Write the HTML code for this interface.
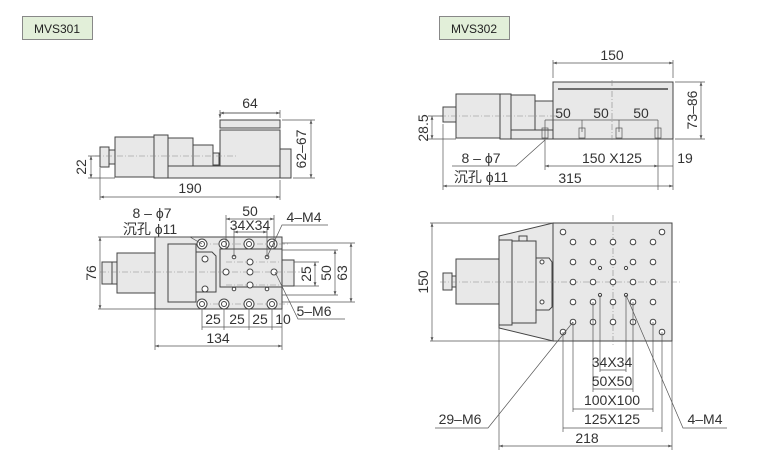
<!DOCTYPE html>
<html><head><meta charset="utf-8"><style>
html,body{margin:0;padding:0;background:#fff;}
svg{display:block;font-family:"Liberation Sans","Noto Sans CJK SC",sans-serif;}
.p{fill:#e8e8e8;stroke:#444;stroke-width:1}
.l{stroke:#555;stroke-width:0.7;fill:none}
.c{stroke:#888;stroke-width:0.6;stroke-dasharray:6 2 1 2;fill:none}
.t{font-size:14px;fill:#333}
.h{fill:#fff;stroke:#444;stroke-width:1}
</style></head><body>
<svg width="774" height="461" viewBox="0 0 774 461">
<defs>
<marker id="a" viewBox="0 0 8 6" refX="8" refY="3" markerWidth="6" markerHeight="4" orient="auto-start-reverse"><path d="M0,0L8,3L0,6z" fill="#555"/></marker>
</defs>
<!-- labels -->
<rect x="22.5" y="16.5" width="70" height="23" fill="#e2efd9" stroke="#888"/>
<text x="57" y="33" font-size="12" text-anchor="middle" fill="#222">MVS301</text>
<rect x="439.5" y="16.5" width="70" height="23" fill="#e2efd9" stroke="#888"/>
<text x="474" y="33" font-size="12" text-anchor="middle" fill="#222">MVS302</text>

<!-- MVS301 side -->
<rect class="p" x="115" y="137" width="39" height="40"/>
<rect class="p" x="168" y="138" width="25" height="30"/>
<rect class="p" x="193" y="145" width="20" height="23"/>
<rect class="p" x="213" y="153" width="6" height="12"/>
<rect class="p" x="168" y="166" width="112" height="12"/>
<rect class="p" x="220" y="130" width="60" height="36"/>
<rect class="p" x="220" y="120" width="60" height="8"/>
<rect class="p" x="280" y="149" width="11" height="29"/>
<rect class="p" x="154" y="135" width="14" height="43"/>
<rect class="p" x="109" y="150" width="6" height="14"/>
<rect class="p" x="100" y="147" width="9" height="20" fill="#ccc"/>
<path class="c" d="M95 156H238"/>
<path class="l" d="M220 118V110M280 118V110M220 113H280" marker-start="url(#a)"/>
<path class="l" d="M220 113H280" marker-start="url(#a)" marker-end="url(#a)"/>
<text class="t" x="250" y="108" text-anchor="middle">64</text>
<path class="l" d="M282 120H315M293 178H315"/>
<path class="l" d="M311 120V178" marker-start="url(#a)" marker-end="url(#a)"/>
<text class="t" transform="translate(306 149) rotate(-90)" text-anchor="middle">62–67</text>
<path class="l" d="M88 156H100M88 178H115"/>
<path class="l" d="M91 156V178" marker-start="url(#a)" marker-end="url(#a)"/>
<text class="t" transform="translate(86 167) rotate(-90)" text-anchor="middle">22</text>
<path class="l" d="M100 168V200M280 180V200"/>
<path class="l" d="M100 197H280" marker-start="url(#a)" marker-end="url(#a)"/>
<text class="t" x="190" y="193" text-anchor="middle">190</text>

<!-- MVS301 top -->
<rect class="p" x="117" y="253" width="38" height="40"/>
<rect class="p" x="112" y="262" width="5" height="22"/>
<rect class="p" x="102" y="262" width="10" height="22" fill="#ccc"/>
<rect class="p" x="155" y="237" width="127" height="72"/>
<rect class="p" x="282" y="260" width="12" height="26"/>
<rect class="p" x="168" y="244" width="28" height="58"/>
<path class="p" d="M196 252H212L216 256V292H196Z"/>
<rect class="p" x="220" y="249" width="62" height="38"/>
<path class="c" d="M100 272H300M202 244H290M202 304H290M226 262H282M226 285H282"/>
<g class="h">
<circle cx="202" cy="244" r="5"/><circle cx="224" cy="244" r="5"/><circle cx="249" cy="244" r="5"/><circle cx="272" cy="244" r="5"/>
<circle cx="202" cy="304" r="5"/><circle cx="224" cy="304" r="5"/><circle cx="249" cy="304" r="5"/><circle cx="272" cy="304" r="5"/>
<circle cx="202" cy="244" r="2.5"/><circle cx="224" cy="244" r="2.5"/><circle cx="249" cy="244" r="2.5"/><circle cx="272" cy="244" r="2.5"/>
<circle cx="202" cy="304" r="2.5"/><circle cx="224" cy="304" r="2.5"/><circle cx="249" cy="304" r="2.5"/><circle cx="272" cy="304" r="2.5"/>
<circle cx="205" cy="259" r="3"/><circle cx="205" cy="289" r="3"/>
<circle cx="226" cy="272" r="3"/><circle cx="250" cy="262" r="3"/><circle cx="250" cy="272" r="3"/><circle cx="250" cy="285" r="3"/><circle cx="274" cy="272" r="3"/>
<circle cx="234" cy="257" r="1.8"/><circle cx="267" cy="257" r="1.8"/><circle cx="234" cy="289" r="1.8"/><circle cx="267" cy="289" r="1.8"/>
</g>
<text class="t" x="152" y="218" text-anchor="middle">8 – ϕ7</text>
<text class="t" x="150" y="234" text-anchor="middle">沉孔 ϕ11</text>
<path class="l" d="M120 237H190L202 244"/>
<path class="l" d="M226 249V215M274 249V215"/>
<path class="l" d="M226 219H274" marker-start="url(#a)" marker-end="url(#a)"/>
<text class="t" x="250" y="216" text-anchor="middle">50</text>
<path class="l" d="M234 257V228M267 257V228"/>
<path class="l" d="M234 232H267" marker-start="url(#a)" marker-end="url(#a)"/>
<text class="t" x="250" y="230" text-anchor="middle">34X34</text>
<text class="t" x="304" y="222" text-anchor="middle">4–M4</text>
<path class="l" d="M328 225H282L267 257"/>
<text class="t" x="314" y="316" text-anchor="middle">5–M6</text>
<path class="l" d="M275 272L298 319H345"/>
<path class="l" d="M294 262H319M294 286H319M282 250H338M282 295H338M282 243H355M282 302H355"/>
<path class="l" d="M315 262V286" marker-start="url(#a)" marker-end="url(#a)"/>
<path class="l" d="M335 250V295" marker-start="url(#a)" marker-end="url(#a)"/>
<path class="l" d="M351 243V302" marker-start="url(#a)" marker-end="url(#a)"/>
<text class="t" transform="translate(311 274) rotate(-90)" text-anchor="middle">25</text>
<text class="t" transform="translate(331 273) rotate(-90)" text-anchor="middle">50</text>
<text class="t" transform="translate(347 273) rotate(-90)" text-anchor="middle">63</text>
<path class="l" d="M98 237H155M98 309H155"/>
<path class="l" d="M100 237V309" marker-start="url(#a)" marker-end="url(#a)"/>
<text class="t" transform="translate(96 273) rotate(-90)" text-anchor="middle">76</text>
<path class="l" d="M202 309V330M224 309V330M249 309V330M272 309V330M282 309V350M155 309V350"/>
<path class="l" d="M202 327H282"/>
<text class="t" x="213" y="324" text-anchor="middle">25</text>
<text class="t" x="237" y="324" text-anchor="middle">25</text>
<text class="t" x="260" y="324" text-anchor="middle">25</text>
<text class="t" x="283" y="324" text-anchor="middle">10</text>
<path class="l" d="M155 346H282" marker-start="url(#a)" marker-end="url(#a)"/>
<text class="t" x="218" y="343" text-anchor="middle">134</text>

<!-- MVS302 side -->
<rect class="p" x="456" y="94" width="44" height="44"/>
<rect class="p" x="443" y="107" width="13" height="15" fill="#ccc"/>
<rect class="p" x="511" y="95" width="24" height="44"/>
<rect class="p" x="535" y="101" width="18" height="29"/>
<rect class="p" x="511" y="130" width="162" height="9"/>
<rect class="p" x="553" y="82" width="120" height="57"/>
<path d="M558 89H668" stroke="#444" stroke-width="1.5"/>
<rect class="p" x="500" y="94" width="11" height="45"/>
<path class="c" d="M440 116H560M612 80V140"/>
<g class="l"><rect x="542" y="128" width="6" height="10"/><rect x="579" y="128" width="6" height="10"/><rect x="616" y="128" width="6" height="10"/><rect x="655" y="128" width="6" height="10"/></g>
<path class="l" d="M553 78V60M673 78V60"/>
<path class="l" d="M553 63H673" marker-start="url(#a)" marker-end="url(#a)"/>
<text class="t" x="612" y="60" text-anchor="middle">150</text>
<text class="t" x="563" y="118" text-anchor="middle">50</text>
<text class="t" x="601" y="118" text-anchor="middle">50</text>
<text class="t" x="641" y="118" text-anchor="middle">50</text>
<path class="l" d="M545 120H658M545 120V170M582 120V132M619 120V132M658 120V190"/>
<path class="l" d="M675 82H705M675 139H705"/>
<path class="l" d="M701 82V139" marker-start="url(#a)" marker-end="url(#a)"/>
<text class="t" transform="translate(697 110) rotate(-90)" text-anchor="middle">73–86</text>
<path class="l" d="M428 116H443M428 139H456"/>
<path class="l" d="M432 116V139" marker-start="url(#a)" marker-end="url(#a)"/>
<text class="t" transform="translate(428 128) rotate(-90)" text-anchor="middle">28.5</text>
<path class="l" d="M545 166H658" marker-start="url(#a)" marker-end="url(#a)"/>
<text class="t" x="612" y="163" text-anchor="middle">150 X125</text>
<path class="l" d="M658 166H673M673 139V190"/>
<text class="t" x="685" y="163" text-anchor="middle">19</text>
<text class="t" x="481" y="163" text-anchor="middle">8 – ϕ7</text>
<text class="t" x="481" y="182" text-anchor="middle">沉孔 ϕ11</text>
<path class="l" d="M452 166H516L545 140"/>
<path class="l" d="M443 124V190"/>
<path class="l" d="M443 186H673" marker-start="url(#a)" marker-end="url(#a)"/>
<text class="t" x="570" y="183" text-anchor="middle">315</text>

<!-- MVS302 top -->
<rect class="p" x="456" y="259" width="43" height="45"/>
<rect class="p" x="443" y="273" width="9" height="17" fill="#ccc"/>
<rect class="p" x="452" y="276" width="4" height="11"/>
<path class="p" d="M499 236L553 223V341L499 328Z"/>
<rect class="p" x="499" y="240" width="13" height="85"/>
<rect class="p" x="512" y="241" width="24" height="82"/>
<rect class="p" x="519" y="236" width="8" height="5"/>
<path class="p" d="M536 258H549L552 262V307L549 310H536Z"/>
<rect class="p" x="553" y="223" width="119" height="118"/>
<path class="c" d="M440 282H680M613 215V345"/>
<g class="h">
<circle cx="573" cy="242" r="2.8"/><circle cx="593" cy="242" r="2.8"/><circle cx="613" cy="242" r="2.8"/><circle cx="633" cy="242" r="2.8"/><circle cx="653" cy="242" r="2.8"/>
<circle cx="573" cy="262" r="2.8"/><circle cx="593" cy="262" r="2.8"/><circle cx="613" cy="262" r="2.8"/><circle cx="633" cy="262" r="2.8"/><circle cx="653" cy="262" r="2.8"/>
<circle cx="573" cy="282" r="2.8"/><circle cx="593" cy="282" r="2.8"/><circle cx="613" cy="282" r="2.8"/><circle cx="633" cy="282" r="2.8"/><circle cx="653" cy="282" r="2.8"/>
<circle cx="573" cy="302" r="2.8"/><circle cx="593" cy="302" r="2.8"/><circle cx="613" cy="302" r="2.8"/><circle cx="633" cy="302" r="2.8"/><circle cx="653" cy="302" r="2.8"/>
<circle cx="573" cy="322" r="2.8"/><circle cx="593" cy="322" r="2.8"/><circle cx="613" cy="322" r="2.8"/><circle cx="633" cy="322" r="2.8"/><circle cx="653" cy="322" r="2.8"/>
<circle cx="563" cy="232" r="2.8"/><circle cx="662" cy="232" r="2.8"/><circle cx="563" cy="332" r="2.8"/><circle cx="662" cy="332" r="2.8"/>
<circle cx="600" cy="268" r="1.6"/><circle cx="626" cy="268" r="1.6"/><circle cx="600" cy="295" r="1.6"/><circle cx="626" cy="295" r="1.6"/>
<circle cx="542" cy="262" r="2"/><circle cx="542" cy="302" r="2"/>
</g>
<path class="l" d="M430 223H553M430 341H553"/>
<path class="l" d="M432 223V341" marker-start="url(#a)" marker-end="url(#a)"/>
<text class="t" transform="translate(428 282) rotate(-90)" text-anchor="middle">150</text>
<path class="l" d="M600 295V372M626 295V372M593 302V392M633 302V392M573 322V412M653 322V412M563 332V432M662 332V432M499 328V450M672 341V450"/>
<path class="l" d="M600 370H626M593 389H633M573 409H653M563 428H662"/>
<text class="t" x="612" y="367" text-anchor="middle">34X34</text>
<text class="t" x="612" y="386" text-anchor="middle">50X50</text>
<text class="t" x="612" y="405" text-anchor="middle">100X100</text>
<text class="t" x="612" y="424" text-anchor="middle">125X125</text>
<path class="l" d="M499 446H672" marker-start="url(#a)" marker-end="url(#a)"/>
<text class="t" x="587" y="443" text-anchor="middle">218</text>
<text class="t" x="460" y="424" text-anchor="middle">29–M6</text>
<path class="l" d="M435 428H488L573 322"/>
<text class="t" x="705" y="424" text-anchor="middle">4–M4</text>
<path class="l" d="M727 428H683L626 295"/>
</svg>
</body></html>
